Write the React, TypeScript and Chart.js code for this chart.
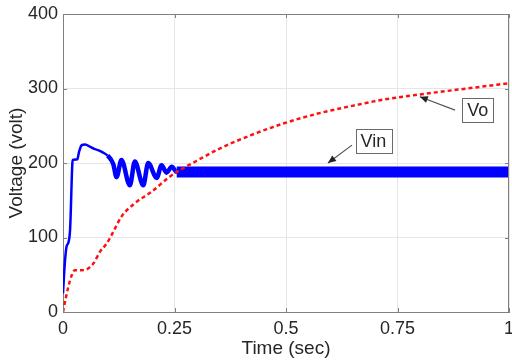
import React, { useEffect, useRef } from "react";
import { Chart, registerables } from "chart.js";

Chart.register(...registerables);

// ---- Data ----
const vinTime = [0, 0.004, 0.008, 0.012, 0.016, 0.021, 0.022, 0.032, 0.036, 0.042, 0.05, 0.06, 0.07, 0.08, 0.09, 0.1, 0.107, 0.113, 0.12, 0.131, 0.15, 0.161, 0.18, 0.191, 0.21, 0.221, 0.232, 0.244, 0.255, 1.0];
const vinVolt = [25, 65, 88, 93, 112, 200, 204, 205, 215, 224, 225, 222, 219, 217, 214, 210, 205, 198, 181, 204, 170, 202, 170, 200, 180, 197, 187, 195, 188, 188];

const voTime = [0, 0.006, 0.012, 0.02, 0.026, 0.04, 0.052, 0.068, 0.083, 0.098, 0.113, 0.131, 0.161, 0.2, 0.24, 0.3, 0.35, 0.42, 0.494, 0.569, 0.643, 0.718, 0.8, 0.905, 1.0];
const voVolt = [0, 18, 34, 50, 56, 56, 57, 65, 81, 92, 108, 128, 146, 162, 182, 203, 219, 237, 253, 266, 276, 285, 292, 300, 307];

const xTickValues = [0, 0.25, 0.5, 0.75, 1];
const xTickLabels = ["0", "0.25", "0.5", "0.75", "1"];
const yTickValues = [0, 100, 200, 300, 400];
const yTickLabels = ["0", "100", "200", "300", "400"];
const xTitle = "Time (sec)";
const yTitle = "Voltage (volt)";

const callouts = [
  { text: "Vo", box: [0.93, 271], from: [0.879, 271], to: [0.8, 289] },
  { text: "Vin", box: [0.696, 229], from: [0.648, 224], to: [0.594, 200] },
];

const FONT = "'Liberation Sans', Arial, Helvetica, sans-serif";
const TEXT = "#262626";
const AXIS = "#808080";
const GRID = "#e6e6e6";

const frameAndCallouts = {
  id: "frameAndCallouts",
  afterDatasetsDraw(chart: any) {
    const { ctx, chartArea: a, scales } = chart;
    const xs = scales.x, ys = scales.y;
    ctx.save();
    ctx.strokeStyle = AXIS;
    ctx.lineWidth = 1;
    ctx.beginPath();
    ctx.moveTo(a.left, a.top + 0.5);
    ctx.lineTo(a.right, a.top + 0.5);
    ctx.moveTo(a.right - 0.5, a.top);
    ctx.lineTo(a.right - 0.5, a.bottom);
    const tl = 4;
    for (const v of xTickValues) {
      const px = Math.round(xs.getPixelForValue(v)) + 0.5;
      ctx.moveTo(px, a.bottom); ctx.lineTo(px, a.bottom - tl);
      ctx.moveTo(px, a.top); ctx.lineTo(px, a.top + tl);
    }
    for (const v of yTickValues) {
      const py = Math.round(ys.getPixelForValue(v)) + 0.5;
      ctx.moveTo(a.left, py); ctx.lineTo(a.left + tl, py);
      ctx.moveTo(a.right, py); ctx.lineTo(a.right - tl, py);
    }
    ctx.stroke();

    ctx.font = `18px ${FONT}`;
    for (const c of callouts) {
      const fx = xs.getPixelForValue(c.from[0]), fy = ys.getPixelForValue(c.from[1]);
      const tx = xs.getPixelForValue(c.to[0]), ty = ys.getPixelForValue(c.to[1]);
      ctx.strokeStyle = "#555";
      ctx.lineWidth = 1.2;
      ctx.beginPath();
      ctx.moveTo(fx, fy);
      ctx.lineTo(tx, ty);
      ctx.stroke();
      const ang = Math.atan2(ty - fy, tx - fx);
      const hl = 8, hw = 3.5;
      ctx.fillStyle = "#222";
      ctx.beginPath();
      ctx.moveTo(tx, ty);
      ctx.lineTo(tx - hl * Math.cos(ang) + hw * Math.sin(ang), ty - hl * Math.sin(ang) - hw * Math.cos(ang));
      ctx.lineTo(tx - hl * Math.cos(ang) - hw * Math.sin(ang), ty - hl * Math.sin(ang) + hw * Math.cos(ang));
      ctx.closePath();
      ctx.fill();

      const bx = xs.getPixelForValue(c.box[0]), by = ys.getPixelForValue(c.box[1]);
      const w = ctx.measureText(c.text).width + 10;
      const h = 24;
      ctx.fillStyle = "#fff";
      ctx.fillRect(bx - w / 2, by - h / 2, w, h);
      ctx.strokeStyle = "#6a6a6a";
      ctx.lineWidth = 1;
      ctx.strokeRect(Math.round(bx - w / 2) + 0.5, Math.round(by - h / 2) + 0.5, Math.round(w), h);
      ctx.fillStyle = TEXT;
      ctx.textAlign = "center";
      ctx.textBaseline = "middle";
      ctx.fillText(c.text, bx, by + 1);
    }
    ctx.restore();
  },
};

export default function App() {
  const ref = useRef<HTMLCanvasElement | null>(null);
  useEffect(() => {
    if (!ref.current) return;
    const chart = new Chart(ref.current, {
      type: "line",
      data: {
        datasets: [
          {
            label: "Vo",
            data: voTime.map((t, i) => ({ x: t, y: voVolt[i] })),
            borderColor: "#ff1010",
            borderWidth: 2.5,
            borderDash: [4, 3],
            pointRadius: 0,
            cubicInterpolationMode: "monotone",
            fill: false,
          },
          {
            label: "Vin",
            data: vinTime.map((t, i) => ({ x: t, y: vinVolt[i] })),
            borderColor: "#0000ff",
            borderWidth: 2.5,
            pointRadius: 0,
            cubicInterpolationMode: "monotone",
            fill: false,
            segment: {
              borderWidth: (ctx: any) => {
                const t = ctx.p0.parsed.x;
                return t >= 0.25 ? 11 : t >= 0.1 ? 4.5 : 2.5;
              },
            },
          },
        ],
      },
      options: {
        animation: false,
        responsive: false,
        maintainAspectRatio: false,
        layout: { padding: { left: 0, right: 3, top: 14, bottom: 0 } },
        plugins: { legend: { display: false }, tooltip: { enabled: false } },
        scales: {
          x: {
            type: "linear",
            min: 0,
            max: 1,
            afterBuildTicks: (s: any) => { s.ticks = xTickValues.map((v) => ({ value: v })); },
            afterFit: (s: any) => { s.height = 50; s.paddingLeft = 0; s.paddingRight = 0; },
            ticks: {
              color: TEXT, font: { family: FONT, size: 18 }, padding: 6, maxRotation: 0,
              callback: (v: any) => xTickLabels[xTickValues.indexOf(Number(v))] ?? "",
            },
            grid: { color: GRID, drawTicks: false },
            border: { color: AXIS, width: 1 },
            title: { display: true, text: xTitle, color: TEXT, font: { family: FONT, size: 19 }, padding: { top: 0, bottom: 2 } },
          },
          y: {
            type: "linear",
            min: 0,
            max: 400,
            afterBuildTicks: (s: any) => { s.ticks = yTickValues.map((v) => ({ value: v })); },
            afterFit: (s: any) => { s.width = 63; s.paddingTop = 0; s.paddingBottom = 0; },
            ticks: {
              color: TEXT, font: { family: FONT, size: 18 }, padding: 5,
              callback: (v: any) => yTickLabels[yTickValues.indexOf(Number(v))] ?? "",
            },
            grid: { color: GRID, drawTicks: false },
            border: { color: AXIS, width: 1 },
            title: { display: true, text: yTitle, color: TEXT, font: { family: FONT, size: 19 }, padding: { top: 5, bottom: 0 } },
          },
        },
      },
      plugins: [frameAndCallouts],
    });
    return () => chart.destroy();
  }, []);

  return (
    <div style={{ position: "absolute", left: 0, top: 0, width: 512, height: 362, background: "#fff" }}>
      <canvas ref={ref} width={512} height={362} style={{ display: "block", width: 512, height: 362 }} />
    </div>
  );
}
